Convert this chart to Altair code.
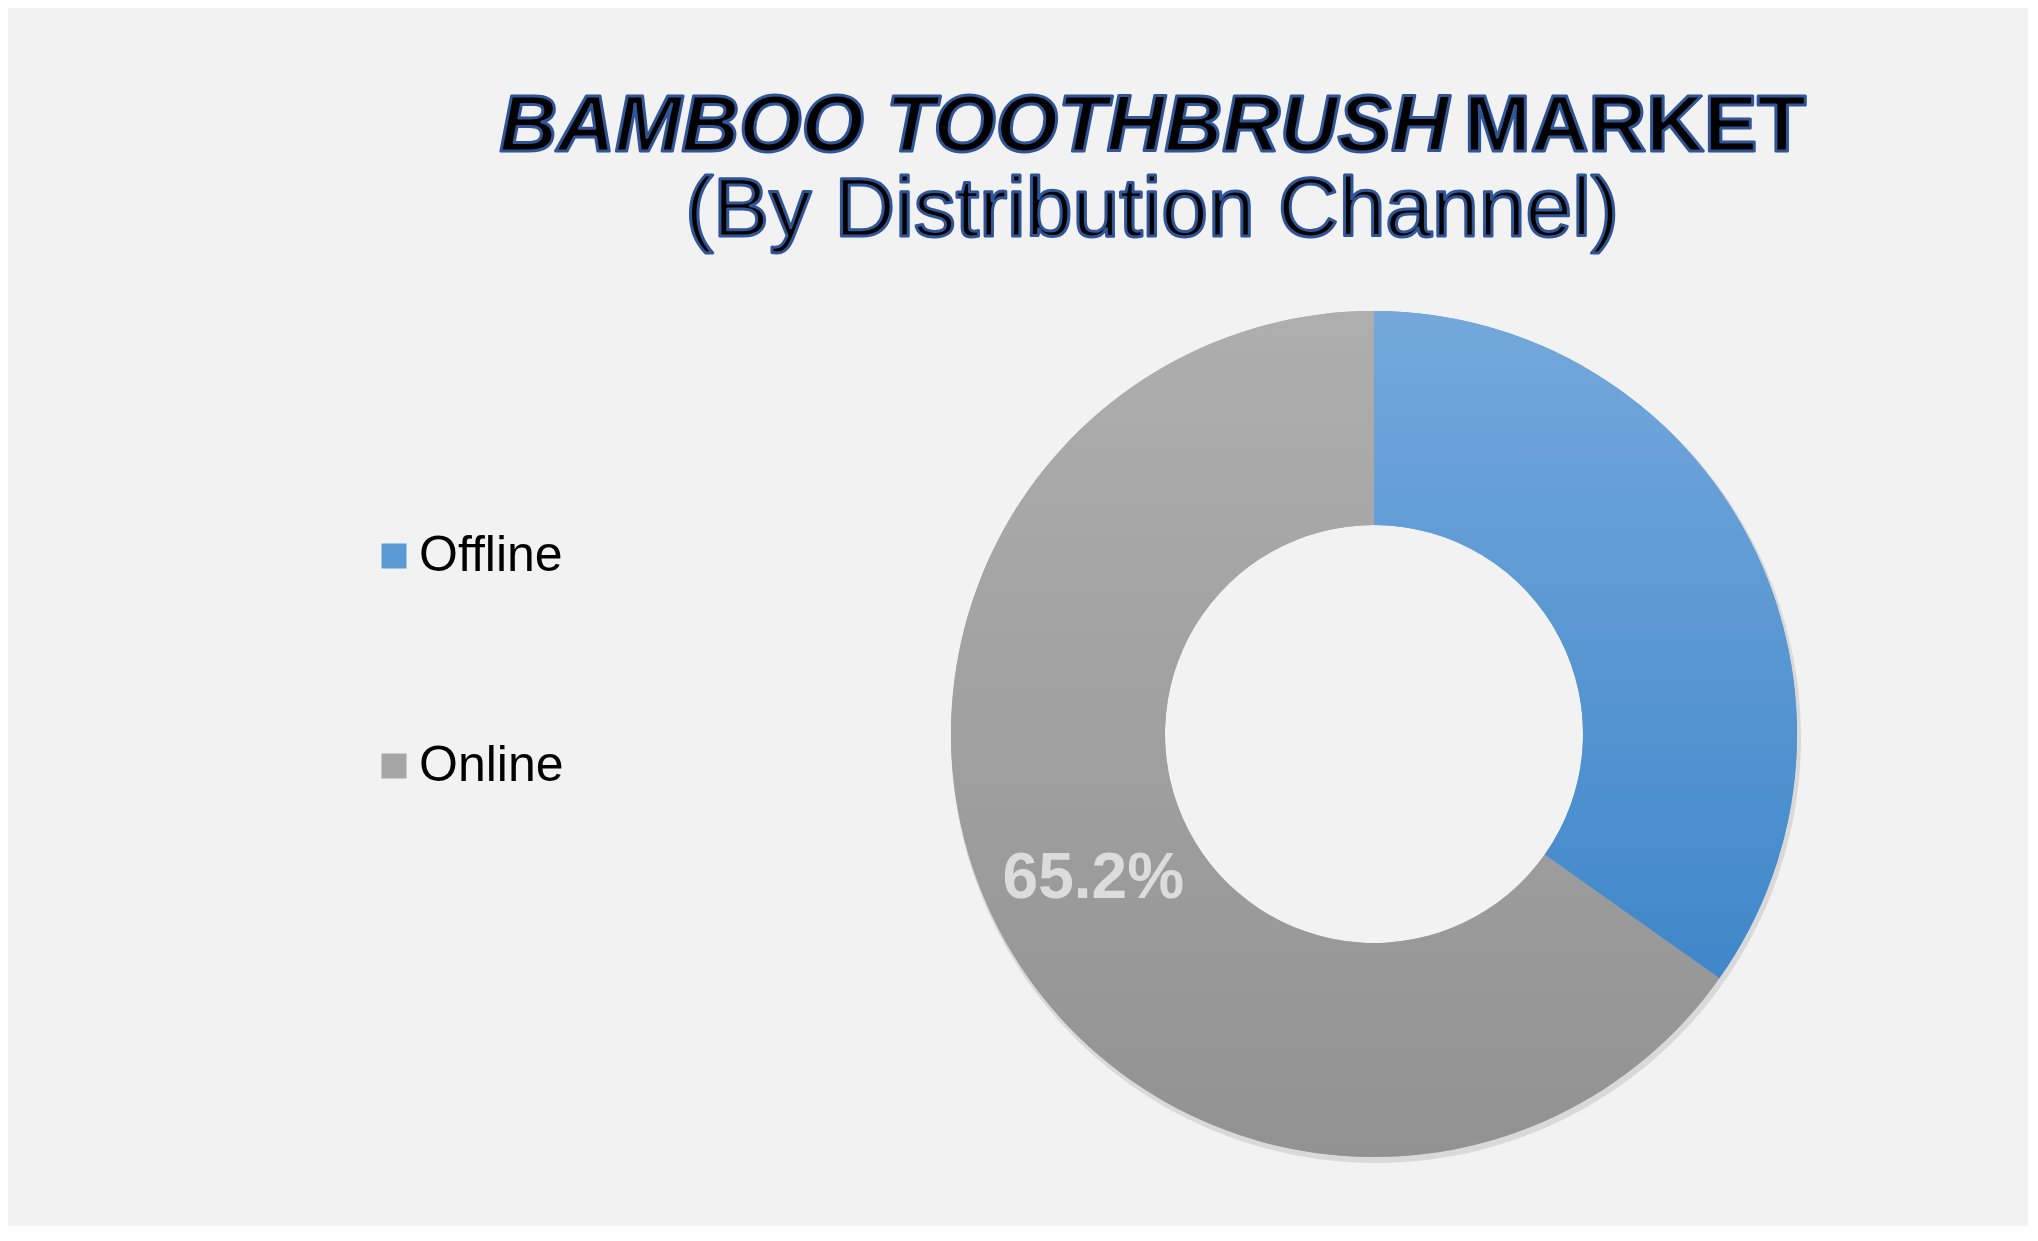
import altair as alt
import pandas as pd

# chart data
channels = ["Offline", "Online"]
shares = [34.8, 65.2]
label_for = ["Online"]

# title pieces
title_italic = "BAMBOO TOOTHBRUSH"
title_plain = "MARKET"
subtitle = "(By Distribution Channel)"

BG = "#F2F2F2"
FONT = "Liberation Sans"
W, H = 2020, 1218
CX, CY = 1366, 726
R_OUT, R_IN = 423, 209

BLUE_GRAD = {
    "gradient": "linear", "x1": 0, "y1": 0, "x2": 0, "y2": 1,
    "stops": [{"offset": 0, "color": "#74A8DC"}, {"offset": 1, "color": "#3F87C9"}],
}
GREY_GRAD = {
    "gradient": "linear", "x1": 0, "y1": 0, "x2": 0, "y2": 1,
    "stops": [{"offset": 0, "color": "#AEAEAE"}, {"offset": 1, "color": "#929292"}],
}

df = pd.DataFrame({"channel": channels, "share": shares, "idx": range(len(channels))})

base = alt.Chart(df).encode(
    theta=alt.Theta("share:Q", stack=True),
    order=alt.Order("idx:Q"),
    x=alt.value(CX),
    y=alt.value(CY),
)

# soft shadow behind the ring
shadow = (
    alt.Chart(df)
    .mark_arc(radius=R_OUT + 2, radius2=R_IN + 30, fill="#000000", opacity=0.10)
    .encode(theta=alt.Theta("share:Q", stack=True), order="idx:Q", x=alt.value(CX + 2), y=alt.value(CY + 4))
)

# solid layer that carries the legend
solid = base.mark_arc(radius=R_OUT, radius2=R_IN).encode(
    color=alt.Color(
        "channel:N",
        scale=alt.Scale(domain=channels, range=["#5B9BD5", "#A5A5A5"]),
        legend=alt.Legend(
            title=None,
            orient="none",
            legendX=361,
            legendY=523,
            symbolType="square",
            symbolSize=625,
            symbolStrokeWidth=0,
            labelFontSize=50,
            labelFont=FONT,
            labelColor="#000000",
            labelOffset=0,
            rowPadding=160,
            padding=0,
        ),
    )
)

# gradient fill on top
grad = base.mark_arc(radius=R_OUT, radius2=R_IN).encode(
    detail="channel:N",
    fill=alt.condition("datum.channel == 'Offline'", alt.value(BLUE_GRAD), alt.value(GREY_GRAD)),
)

labels = (
    base.transform_calculate(
        lbl="indexof(%s, datum.channel) >= 0 ? format(datum.share, '.1f') + '%%' : ''" % str(label_for)
    )
    .mark_text(radius=(R_OUT + R_IN) / 2, font=FONT, fontSize=64, fontWeight="bold", color="#DCDCDC")
    .encode(detail="channel:N", text="lbl:N")
)


def title_text(txt, x, y, align, size, style="normal"):
    return (
        alt.Chart(pd.DataFrame({"t": [txt]}))
        .mark_text(
            font=FONT,
            fontSize=size,
            fontWeight="normal" if style == "regular" else "bold",
            fontStyle="italic" if style == "italic" else "normal",
            align=align,
            baseline="alphabetic",
            color="#000000",
            stroke="#2F5597",
            strokeWidth=3,
            strokeJoin="round",
        )
        .encode(text="t:N", x=alt.value(x), y=alt.value(y))
    )


titles = [
    title_text(title_italic, 1441, 143, "right", 80, "italic"),
    title_text(title_plain, 1456, 143, "left", 80, "bold"),
    title_text(subtitle, 1144, 228, "center", 84, "regular"),
]

chart = (
    alt.layer(shadow, solid, grad, labels, *titles)
    .properties(width=W, height=H, padding=0, autosize="none", background=BG)
    .configure_view(strokeWidth=0)
)

chart.save("out.html", embed_options={"renderer": "svg", "actions": False})
